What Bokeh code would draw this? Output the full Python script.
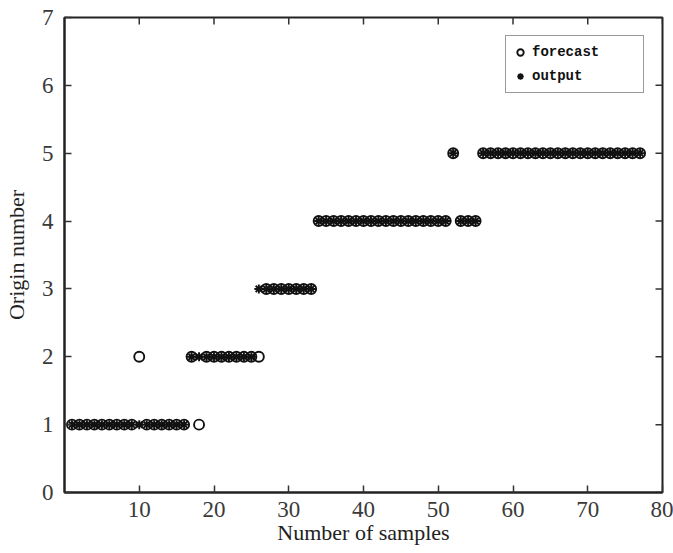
import math
from bokeh.plotting import figure
from bokeh.models import (ColumnDataSource, FixedTicker, Range1d, Legend, LegendItem)
from bokeh.embed import file_html
from bokeh.resources import INLINE

# ---- data ----
sample_index = list(range(1, 78))
forecast = [1, 1, 1, 1, 1, 1, 1, 1, 1, 2,
            1, 1, 1, 1, 1, 1, 2, 1, 2, 2,
            2, 2, 2, 2, 2, 2, 3, 3, 3, 3,
            3, 3, 3, 4, 4, 4, 4, 4, 4, 4,
            4, 4, 4, 4, 4, 4, 4, 4, 4, 4,
            4, 5, 4, 4, 4, 5, 5, 5, 5, 5,
            5, 5, 5, 5, 5, 5, 5, 5, 5, 5,
            5, 5, 5, 5, 5, 5, 5]
output = [1, 1, 1, 1, 1, 1, 1, 1, 1, 1,
          1, 1, 1, 1, 1, 1, 2, 2, 2, 2,
          2, 2, 2, 2, 2, 3, 3, 3, 3, 3,
          3, 3, 3, 4, 4, 4, 4, 4, 4, 4,
          4, 4, 4, 4, 4, 4, 4, 4, 4, 4,
          4, 5, 4, 4, 4, 5, 5, 5, 5, 5,
          5, 5, 5, 5, 5, 5, 5, 5, 5, 5,
          5, 5, 5, 5, 5, 5, 5]
x_ticks = [10, 20, 30, 40, 50, 60, 70, 80]
y_ticks = [0, 1, 2, 3, 4, 5, 6, 7]

src = ColumnDataSource(dict(x=sample_index, forecast=forecast, output=output))

p = figure(width=673, height=553, output_backend="svg", toolbar_location=None,
           x_range=Range1d(0, 80), y_range=Range1d(0, 7),
           min_border_left=64, min_border_right=11, min_border_top=17, min_border_bottom=61)
p.background_fill_color = "white"
p.border_fill_color = "white"
p.grid.visible = False
p.outline_line_color = "#222222"
p.outline_line_width = 2

serif = "Liberation Serif"
for ax in (p.xaxis[0], p.yaxis[0]):
    ax.axis_line_color = "#222222"
    ax.axis_line_width = 2
    ax.major_tick_in = 7
    ax.major_tick_out = 0
    ax.minor_tick_line_color = None
    ax.major_tick_line_color = "#333333"
    ax.major_tick_line_width = 1.5
    ax.major_label_text_font = serif
    ax.major_label_text_font_size = "23px"
    ax.major_label_text_color = "#3a3a3a"
    ax.axis_label_text_font = serif
    ax.axis_label_text_font_size = "22px"
    ax.axis_label_text_font_style = "normal"
    ax.axis_label_text_color = "#222222"

p.xaxis[0].ticker = FixedTicker(ticks=x_ticks)
p.yaxis[0].ticker = FixedTicker(ticks=y_ticks)
p.xaxis[0].axis_label = "Number of samples"
p.yaxis[0].axis_label = "Origin number"
p.xaxis[0].major_label_standoff = 9
p.yaxis[0].major_label_standoff = 11
p.xaxis[0].axis_label_standoff = 0
p.yaxis[0].axis_label_standoff = 10

# inward ticks on the right and top edges of the box
p.scatter(x=[p.x_range.end] * len(y_ticks), y=y_ticks, marker="dash", size=14,
          line_color="#333333", line_width=1.5)
p.scatter(x=x_ticks, y=[p.y_range.end] * len(x_ticks), marker="dash", size=14,
          angle=math.pi / 2, line_color="#333333", line_width=1.5)

r_fc = p.scatter("x", "forecast", source=src, marker="circle", size=10,
                 fill_color=None, line_color="#111111", line_width=1.9)
r_out = p.scatter("x", "output", source=src, marker="asterisk", size=9,
                  line_color="#111111", line_width=1.9)

legend = Legend(items=[LegendItem(label="forecast", renderers=[r_fc]),
                       LegendItem(label="output", renderers=[r_out])],
                location="top_right")
legend.margin = 18
legend.padding = 6
legend.spacing = 4
legend.glyph_width = 16
legend.glyph_height = 20
legend.label_standoff = 4
legend.label_width = 105
legend.label_text_font = "Liberation Mono"
legend.label_text_font_style = "bold"
legend.label_text_font_size = "14px"
legend.label_text_color = "#111111"
legend.border_line_color = "#333333"
legend.border_line_width = 1.5
legend.background_fill_color = "white"
legend.background_fill_alpha = 1
p.add_layout(legend)

open("out.html", "w").write(file_html(p, INLINE))
